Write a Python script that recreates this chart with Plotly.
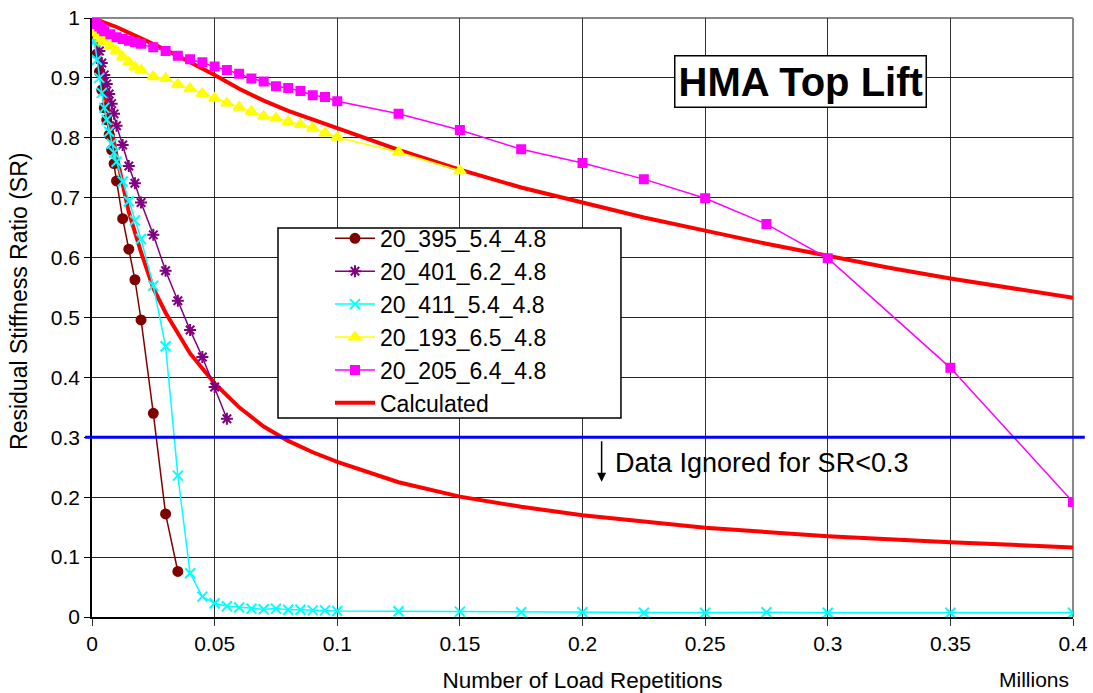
import plotly.graph_objects as go

# Load repetitions (millions) and residual stiffness ratio for each specimen
x_395 = [0, 0.001, 0.002, 0.003, 0.004, 0.005, 0.006, 0.007, 0.008, 0.009, 0.01,
         0.0125, 0.015, 0.0175, 0.02, 0.025, 0.03, 0.035]
sr_395 = [1.0, 0.97, 0.94, 0.91, 0.88, 0.85, 0.83, 0.805, 0.78, 0.757, 0.728,
          0.665, 0.614, 0.563, 0.496, 0.34, 0.172, 0.076]

x_401 = [0, 0.001, 0.002, 0.003, 0.004, 0.005, 0.006, 0.007, 0.008, 0.009, 0.01,
         0.0125, 0.015, 0.0175, 0.02, 0.025, 0.03, 0.035, 0.04, 0.045, 0.05, 0.055]
sr_401 = [1.0, 0.985, 0.965, 0.945, 0.925, 0.905, 0.89, 0.873, 0.857, 0.84, 0.82,
          0.788, 0.753, 0.724, 0.692, 0.638, 0.578, 0.528, 0.479, 0.434, 0.384, 0.331]

x_411 = [0, 0.001, 0.002, 0.003, 0.004, 0.005, 0.006, 0.007, 0.008, 0.009, 0.01,
         0.0125, 0.015, 0.0175, 0.02, 0.025, 0.03, 0.035, 0.04, 0.045, 0.05, 0.055,
         0.06, 0.065, 0.07, 0.075, 0.08, 0.085, 0.09, 0.095, 0.1, 0.125, 0.15,
         0.175, 0.2, 0.225, 0.25, 0.275, 0.3, 0.35, 0.4]
sr_411 = [0.99, 0.96, 0.93, 0.9, 0.875, 0.85, 0.83, 0.81, 0.79, 0.775, 0.76,
          0.727, 0.694, 0.662, 0.631, 0.553, 0.452, 0.236, 0.073, 0.034, 0.023, 0.018,
          0.016, 0.014, 0.013, 0.014, 0.012, 0.012, 0.011, 0.011, 0.01, 0.0095, 0.009,
          0.008, 0.008, 0.007, 0.007, 0.008, 0.007, 0.007, 0.007]

x_193 = [0, 0.001, 0.002, 0.003, 0.004, 0.005, 0.0075, 0.01, 0.0125, 0.015, 0.0175,
         0.02, 0.025, 0.03, 0.035, 0.04, 0.045, 0.05, 0.055, 0.06, 0.065, 0.07, 0.075,
         0.08, 0.085, 0.09, 0.095, 0.1, 0.125, 0.15]
sr_193 = [0.99, 0.98, 0.975, 0.97, 0.965, 0.96, 0.953, 0.945, 0.935, 0.926, 0.918,
          0.913, 0.902, 0.899, 0.889, 0.882, 0.874, 0.866, 0.858, 0.851, 0.844, 0.836,
          0.833, 0.827, 0.822, 0.816, 0.808, 0.801, 0.776, 0.745]

x_205 = [0, 0.001, 0.002, 0.003, 0.004, 0.005, 0.0075, 0.01, 0.0125, 0.015, 0.0175,
         0.02, 0.025, 0.03, 0.035, 0.04, 0.045, 0.05, 0.055, 0.06, 0.065, 0.07, 0.075,
         0.08, 0.085, 0.09, 0.095, 0.1, 0.125, 0.15, 0.175, 0.2, 0.225, 0.25, 0.275,
         0.3, 0.35, 0.4]
sr_205 = [1.0, 0.995, 0.99, 0.986, 0.982, 0.978, 0.973, 0.968, 0.965, 0.962, 0.96,
          0.957, 0.951, 0.945, 0.937, 0.931, 0.926, 0.919, 0.913, 0.907, 0.899, 0.894,
          0.886, 0.883, 0.878, 0.871, 0.868, 0.861, 0.84, 0.813, 0.781, 0.758, 0.731,
          0.699, 0.656, 0.599, 0.416, 0.192]

# Model predictions (two calibrations)
x_calc_a = [0, 0.01, 0.02, 0.03, 0.04, 0.05, 0.06, 0.07, 0.08, 0.09, 0.1, 0.125,
            0.15, 0.175, 0.2, 0.225, 0.25, 0.275, 0.3, 0.325, 0.35, 0.375, 0.4]
sr_calc_a = [1.0, 0.985, 0.966, 0.947, 0.926, 0.905, 0.882, 0.862, 0.845, 0.83,
             0.816, 0.78, 0.747, 0.717, 0.692, 0.667, 0.645, 0.623, 0.603, 0.583,
             0.565, 0.549, 0.533]

x_calc_b = [0, 0.005, 0.01, 0.015, 0.02, 0.025, 0.03, 0.04, 0.05, 0.06, 0.07, 0.08,
            0.09, 0.1, 0.125, 0.15, 0.175, 0.2, 0.25, 0.3, 0.35, 0.4]
sr_calc_b = [1.0, 0.88, 0.77, 0.676, 0.609, 0.549, 0.508, 0.44, 0.39, 0.35, 0.318,
             0.294, 0.275, 0.259, 0.225, 0.201, 0.184, 0.17, 0.149, 0.135, 0.125, 0.116]

SR_LIMIT = 0.3

FONT = "Liberation Sans, Arial, sans-serif"

fig = go.Figure()

# Calculated curves drawn first so measured data sits on top
fig.add_trace(go.Scatter(x=x_calc_a, y=sr_calc_a, mode="lines", name="Calculated",
                         line=dict(color="#FF0000", width=4), legendgroup="calc",
                         legendrank=1006))
fig.add_trace(go.Scatter(x=x_calc_b, y=sr_calc_b, mode="lines", name="Calculated",
                         line=dict(color="#FF0000", width=4), legendgroup="calc",
                         showlegend=False))

specimens = [
    ("20_395_5.4_4.8", x_395, sr_395, "#800000", "circle", 9),
    ("20_401_6.2_4.8", x_401, sr_401, "#800080", "asterisk-open", 10),
    ("20_411_5.4_4.8", x_411, sr_411, "#00FFFF", "x-thin-open", 10),
    ("20_193_6.5_4.8", x_193, sr_193, "#FFFF00", "triangle-up", 10),
    ("20_205_6.4_4.8", x_205, sr_205, "#FF00FF", "square", 8),
]
for i, (name, xs, ys, col, sym, sz) in enumerate(specimens):
    fig.add_trace(go.Scatter(
        x=xs, y=ys, mode="lines+markers", name=name, legendrank=1000 + i,
        line=dict(color=col, width=1.5),
        marker=dict(symbol=sym, size=sz, color=col, line=dict(color=col, width=2)),
    ))

# SR cut-off line
fig.add_shape(type="line", xref="paper", yref="y", x0=-0.007, x1=1.012,
              y0=SR_LIMIT, y1=SR_LIMIT, line=dict(color="#0000FF", width=3))

# Legend frame (the legend itself is transparent and sits on this box)
fig.add_shape(type="rect", xref="paper", yref="paper", x0=0.1896, x1=0.5392,
              y0=0.3322, y1=0.6494, fillcolor="white",
              line=dict(color="black", width=1.5), layer="above")

fig.add_annotation(x=0.2078, y=0.226, ax=0.2078, ay=0.296, xref="x", yref="y",
                   axref="x", ayref="y", showarrow=True, arrowhead=2, arrowsize=1.2,
                   arrowwidth=1.5, arrowcolor="black", text="")
fig.add_annotation(x=0.2125, y=0.257, xref="x", yref="y", xanchor="left",
                   showarrow=False, text="Data Ignored for SR<0.3",
                   font=dict(family=FONT, size=27, color="black"))

fig.add_annotation(x=0.7227, y=0.894, xref="paper", yref="paper", showarrow=False,
                   xanchor="center", yanchor="middle",
                   text="<b>HMA Top Lift</b>", bordercolor="black", borderwidth=1.5,
                   borderpad=3, bgcolor="white",
                   font=dict(family=FONT, size=40, color="black"))

fig.add_annotation(x=0.998, y=-0.105, xref="paper", yref="paper", showarrow=False,
                   xanchor="right", yanchor="middle", text="Millions",
                   font=dict(family=FONT, size=21, color="black"))

fig.add_annotation(x=-0.0744, y=0.526, xref="paper", yref="paper", showarrow=False,
                   xanchor="center", yanchor="middle", textangle=-90,
                   text="Residual Stiffness Ratio (SR)",
                   font=dict(family=FONT, size=23, color="black"))

fig.update_xaxes(range=[0, 0.4], dtick=0.05, tick0=0, showgrid=True,
                 gridcolor="#333333", gridwidth=1, zeroline=False,
                 showline=True, linecolor="black", linewidth=1.5,
                 ticks="outside", ticklen=7, tickcolor="#333333", automargin=False,
                 tickfont=dict(family=FONT, size=21, color="black"),
                 title=dict(text="Number of Load Repetitions", standoff=18,
                            font=dict(family=FONT, size=22.5, color="black")))
fig.update_yaxes(range=[0, 1], dtick=0.1, tick0=0, showgrid=True,
                 gridcolor="#222222", gridwidth=1, zeroline=False,
                 showline=True, linecolor="black", linewidth=1.5,
                 ticks="outside", ticklen=6, tickcolor="black", automargin=False,
                 tickfont=dict(family=FONT, size=21, color="black"))

# Gray frame on the top and right
fig.add_shape(type="line", xref="paper", yref="paper", x0=0, x1=1, y0=1, y1=1,
              line=dict(color="#888888", width=2), layer="below")
fig.add_shape(type="line", xref="paper", yref="paper", x0=1, x1=1, y0=0, y1=1,
              line=dict(color="#888888", width=2), layer="below")

fig.update_layout(
    width=1093, height=693,
    margin=dict(l=92, r=20, t=18, b=76),
    paper_bgcolor="white", plot_bgcolor="white",
    font=dict(family=FONT, color="black"),
    legend=dict(x=0.2426, y=0.668, xanchor="left", yanchor="top",
                bgcolor="rgba(0,0,0,0)", borderwidth=0,
                font=dict(family=FONT, size=23, color="black"),
                itemwidth=40, tracegroupgap=0),
    showlegend=True,
)

fig.write_html("out.html")
